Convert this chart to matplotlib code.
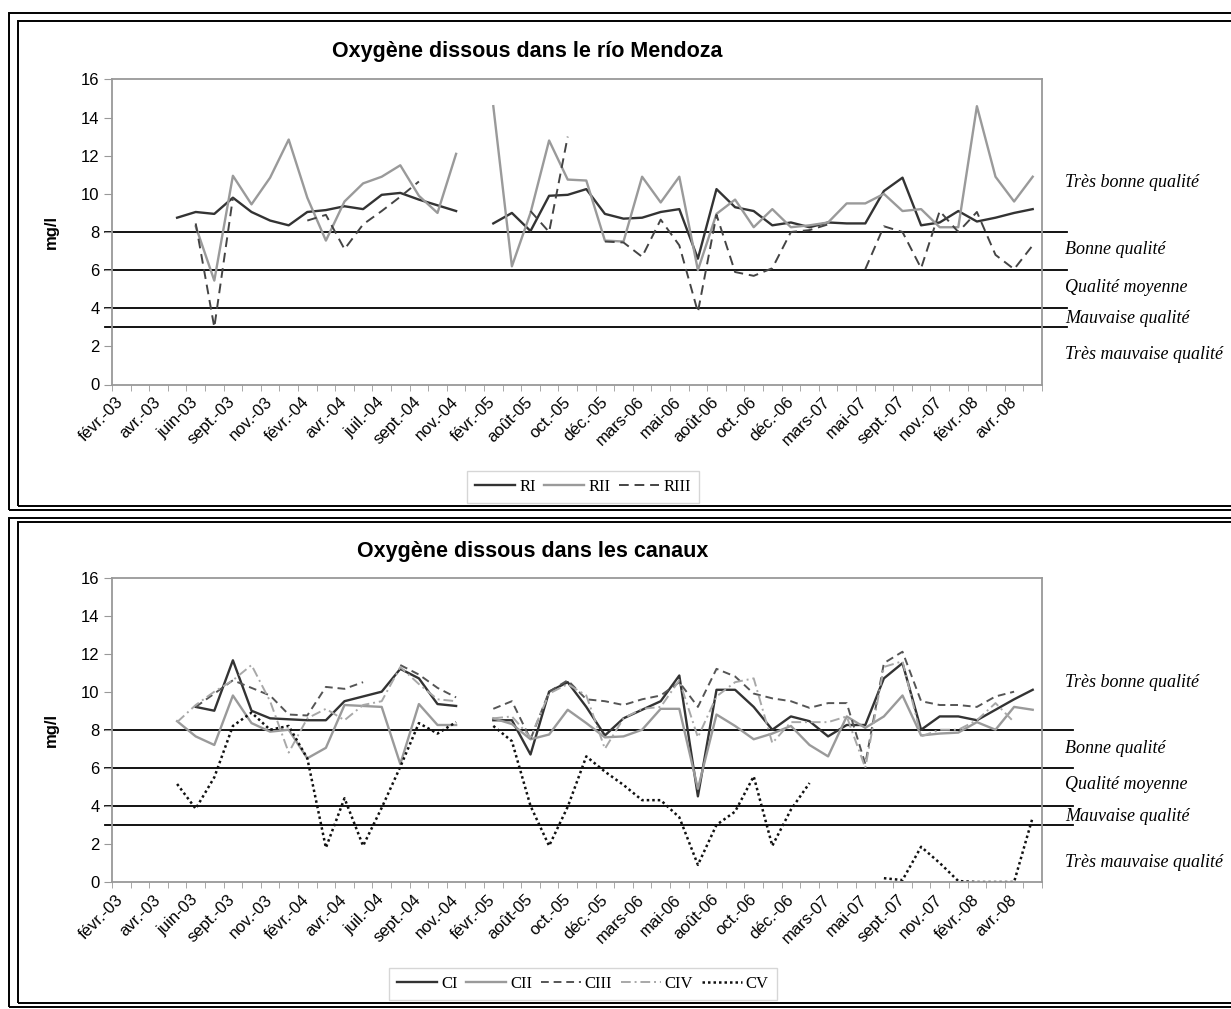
import numpy as np
import matplotlib
matplotlib.use('agg')
import matplotlib.pyplot as plt
import matplotlib.transforms as mtransforms
from matplotlib.patches import Rectangle

nan = np.nan

# sampling dates (one label every second sample, as in the source chart)
month_labels = ["févr.-03", "avr.-03", "juin-03", "sept.-03", "nov.-03",
                "févr.-04", "avr.-04", "juil.-04", "sept.-04", "nov.-04",
                "févr.-05", "août-05", "oct.-05", "déc.-05", "mars-06",
                "mai-06", "août-06", "oct.-06", "déc.-06", "mars-07",
                "mai-07", "sept.-07", "nov.-07", "févr.-08", "avr.-08"]
n_samples = 50

# --- río Mendoza (mg/l) ---
RI = [nan, nan, nan, 8.75, 9.05, 8.95, 9.8, 9.05, 8.6, 8.35,
      9.05, 9.15, 9.35, 9.2, 9.95, 10.05, 9.7, 9.4, 9.1, nan,
      8.45, 9.0, 8.05, 9.9, 9.95, 10.25, 8.95, 8.7, 8.75, 9.05,
      9.2, 6.6, 10.25, 9.3, 9.1, 8.35, 8.5, 8.25, 8.5, 8.45,
      8.45, 10.15, 10.85, 8.35, 8.5, 9.1, 8.55, 8.75, 9.0, 9.2]
RII = [nan, nan, nan, nan, 8.3, 5.45, 10.95, 9.45, 10.85, 12.85,
       9.8, 7.55, 9.6, 10.55, 10.9, 11.5, 9.9, 9.0, 12.1, nan,
       14.6, 6.2, 9.0, 12.8, 10.75, 10.7, 7.55, 7.5, 10.9, 9.55,
       10.9, 6.0, 8.95, 9.7, 8.25, 9.2, 8.25, 8.35, 8.5, 9.5,
       9.5, 10.0, 9.1, 9.2, 8.25, 8.25, 14.6, 10.9, 9.6, 10.9]
RIII = [nan, nan, nan, nan, 8.45, 3.0, 9.8, nan, nan, nan,
        8.6, 8.9, 7.1, 8.4, 9.1, 9.85, 10.65, nan, nan, nan,
        nan, nan, 9.1, 8.0, 13.0, nan, 7.5, 7.45, 6.7, 8.65,
        7.3, 3.8, 8.9, 5.9, 5.7, 6.1, 8.0, 8.1, 8.4, nan,
        6.05, 8.3, 8.0, 6.1, 9.1, 8.0, 9.05, 6.8, 6.05, 7.3]

# --- canaux (mg/l) ---
CI = [nan, nan, nan, nan, 9.2, 9.0, 11.65, 9.0, 8.6, 8.55,
      8.5, 8.5, 9.5, 9.75, 10.0, 11.2, 10.7, 9.35, 9.25, nan,
      8.5, 8.5, 6.7, 10.0, 10.5, 9.2, 7.7, 8.6, 9.05, 9.5,
      10.85, 4.5, 10.1, 10.1, 9.2, 8.0, 8.7, 8.45, 7.65, 8.25,
      8.25, 10.7, 11.5, 8.0, 8.7, 8.7, 8.5, 9.05, 9.6, 10.1]
CII = [nan, nan, nan, 8.45, 7.65, 7.2, 9.8, 8.35, 7.9, 8.0,
       6.5, 7.05, 9.3, 9.25, 9.2, 6.2, 9.35, 8.25, 8.25, nan,
       8.6, 8.3, 7.5, 7.75, 9.05, 8.35, 7.6, 7.65, 8.0, 9.1,
       9.1, 4.9, 8.8, 8.2, 7.5, 7.8, 8.2, 7.2, 6.6, 8.7,
       8.1, 8.7, 9.8, 7.7, 7.8, 7.85, 8.4, 8.0, 9.2, 9.05]
CIII = [nan, nan, nan, nan, 9.2, 9.9, 10.6, 10.2, 9.8, 8.8,
        8.75, 10.25, 10.15, 10.5, nan, 11.4, 10.9, 10.2, 9.7, nan,
        9.1, 9.5, 7.5, 10.0, 10.6, 9.6, 9.5, 9.3, 9.6, 9.8,
        10.5, 9.2, 11.2, 10.8, 9.9, 9.65, 9.5, 9.15, 9.4, 9.4,
        6.2, 11.5, 12.1, 9.5, 9.3, 9.3, 9.2, 9.75, 10.0, nan]
CIV = [nan, nan, nan, 8.4, 9.3, 10.0, 10.6, 11.4, 9.5, 6.8,
       8.6, 9.1, 8.5, 9.3, 9.5, 11.3, 10.4, 9.6, 9.5, nan,
       8.6, 8.7, 7.6, 9.9, 10.4, 9.8, 7.0, 8.6, 9.1, 9.2,
       10.6, 7.6, 9.75, 10.5, 10.7, 7.3, 8.4, 8.4, 8.4, 8.7,
       6.0, 11.3, 11.6, 7.65, 8.0, 8.0, 8.5, 9.4, 8.4, nan]
CV = [nan, nan, nan, 5.15, 3.85, 5.5, 8.2, 8.9, 8.0, 8.2,
      6.5, 1.8, 4.4, 1.9, 3.9, 6.05, 8.35, 7.8, 8.4, nan,
      8.2, 7.4, 4.0, 1.9, 3.95, 6.6, 5.8, 5.1, 4.3, 4.3,
      3.4, 0.9, 3.0, 3.7, 5.55, 1.9, 3.8, 5.2, nan, nan,
      nan, 0.2, 0.1, 1.85, 1.0, 0.05, 0.0, 0.0, 0.0, 3.4]

quality_limits = [8, 6, 4, 3]
quality_names = ["Très bonne qualité", "Bonne qualité", "Qualité moyenne",
                 "Mauvaise qualité", "Très mauvaise qualité"]
quality_pos_river = [10.6, 7.1, 5.1, 3.45, 1.55]
quality_pos_canal = [10.5, 7.0, 5.1, 3.45, 1.0]

W, H = 1231, 1009
SANS = "Liberation Sans"
SERIF = "Liberation Serif"


def px_rect(x0, y0, x1, y1):
    # pixel box, origin top-left -> figure fraction [l, b, w, h]
    return [x0 / W, 1 - y1 / H, (x1 - x0) / W, (y1 - y0) / H]


def frame(fig, x0, y0, x1, y1, lw=1.4):
    l, b, w, h = px_rect(x0, y0, x1, y1)
    fig.add_artist(Rectangle((l, b), w, h, transform=fig.transFigure,
                             fill=False, edgecolor="black", linewidth=lw))


def make_panel(fig, box, title, title_x, title_y, series, label_pos, line_end,
               legend_xy):
    ax = fig.add_axes(px_rect(*box))
    x = np.arange(n_samples)
    for name, values, style in series:
        ax.plot(x, np.array(values, dtype=float), label=name, **style)

    ax.set_xlim(-0.5, n_samples - 0.5)
    ax.set_ylim(0, 16)
    ax.set_yticks(range(0, 17, 2))
    ax.set_xticks(range(0, n_samples, 2))
    ax.set_xticklabels(month_labels, rotation=45, ha="right", va="center",
                       rotation_mode="anchor", fontfamily=SANS, fontsize=12)
    ax.set_xticks(np.arange(-0.5, n_samples, 1), minor=True)
    ax.tick_params(axis="x", which="major", length=0, pad=11)
    ax.tick_params(axis="x", which="minor", length=4, color="#999999")
    ax.tick_params(axis="y", length=6, color="#999999", pad=3)
    for lab in ax.get_yticklabels():
        lab.set_fontfamily(SANS)
        lab.set_fontsize(12)
    for sp in ax.spines.values():
        sp.set_color("#999999")
        sp.set_linewidth(1.3)

    ax.set_ylabel("mg/l", fontfamily=SANS, fontweight="bold", fontsize=12)
    ax.yaxis.set_label_coords(-0.057, 0.5)

    trans = mtransforms.blended_transform_factory(ax.transAxes, ax.transData)
    for lvl in quality_limits:
        ax.plot([-0.008, line_end], [lvl, lvl], transform=trans, color="black",
                lw=1.3, clip_on=False, zorder=1)
    for name, yy in zip(quality_names, label_pos):
        ax.text(1.0247, yy, name, transform=trans, fontfamily=SERIF,
                style="italic", fontsize=13, va="center", ha="left")

    fig.text(title_x / W, 1 - title_y / H, title, fontfamily=SANS,
             fontweight="bold", fontsize=15.5, ha="center", va="center")

    handles, labels = ax.get_legend_handles_labels()
    leg = fig.legend(handles, labels, loc="center",
                     bbox_to_anchor=(legend_xy[0] / W, 1 - legend_xy[1] / H),
                     ncol=len(labels), frameon=True, fancybox=False,
                     prop={"family": SERIF, "size": 12}, handlelength=2.4,
                     handletextpad=0.25, columnspacing=0.5, borderpad=0.5)
    leg.get_frame().set_edgecolor("#cccccc")
    leg.get_frame().set_linewidth(1.0)
    return ax


def main():
    fig = plt.figure(figsize=(W / 100, H / 100), dpi=100)
    fig.patch.set_facecolor("white")

    frame(fig, 8.7, 13.3, 1260, 510)
    frame(fig, 17.8, 20.7, 1260, 506)
    frame(fig, 8.7, 518, 1260, 1007)
    frame(fig, 17.8, 521.5, 1260, 1003)

    river = [
        ("RI", RI, dict(color="#333333", lw=1.7)),
        ("RII", RII, dict(color="#9a9a9a", lw=1.7)),
        ("RIII", RIII, dict(color="#444444", lw=1.4, linestyle=(0, (5, 3)))),
    ]
    make_panel(fig, (112, 79.5, 1042, 384.5),
               "Oxygène dissous dans le río Mendoza", 527, 51.7,
               river, quality_pos_river, 1.027, (583, 487))

    canal = [
        ("CI", CI, dict(color="#333333", lw=1.7)),
        ("CII", CII, dict(color="#9a9a9a", lw=1.7)),
        ("CIII", CIII, dict(color="#555555", lw=1.4, linestyle=(0, (4, 2.5)))),
        ("CIV", CIV, dict(color="#a8a8a8", lw=1.4,
                          linestyle=(0, (5, 2, 1, 2)))),
        ("CV", CV, dict(color="#111111", lw=1.8, linestyle=(0, (1, 1.2)))),
    ]
    make_panel(fig, (112, 577.5, 1042, 882),
               "Oxygène dissous dans les canaux", 533, 551.7,
               canal, quality_pos_canal, 1.033, (583, 984))

    fig.savefig("out.png", dpi=100)
    plt.close("all")


if __name__ == "__main__":
    main()
